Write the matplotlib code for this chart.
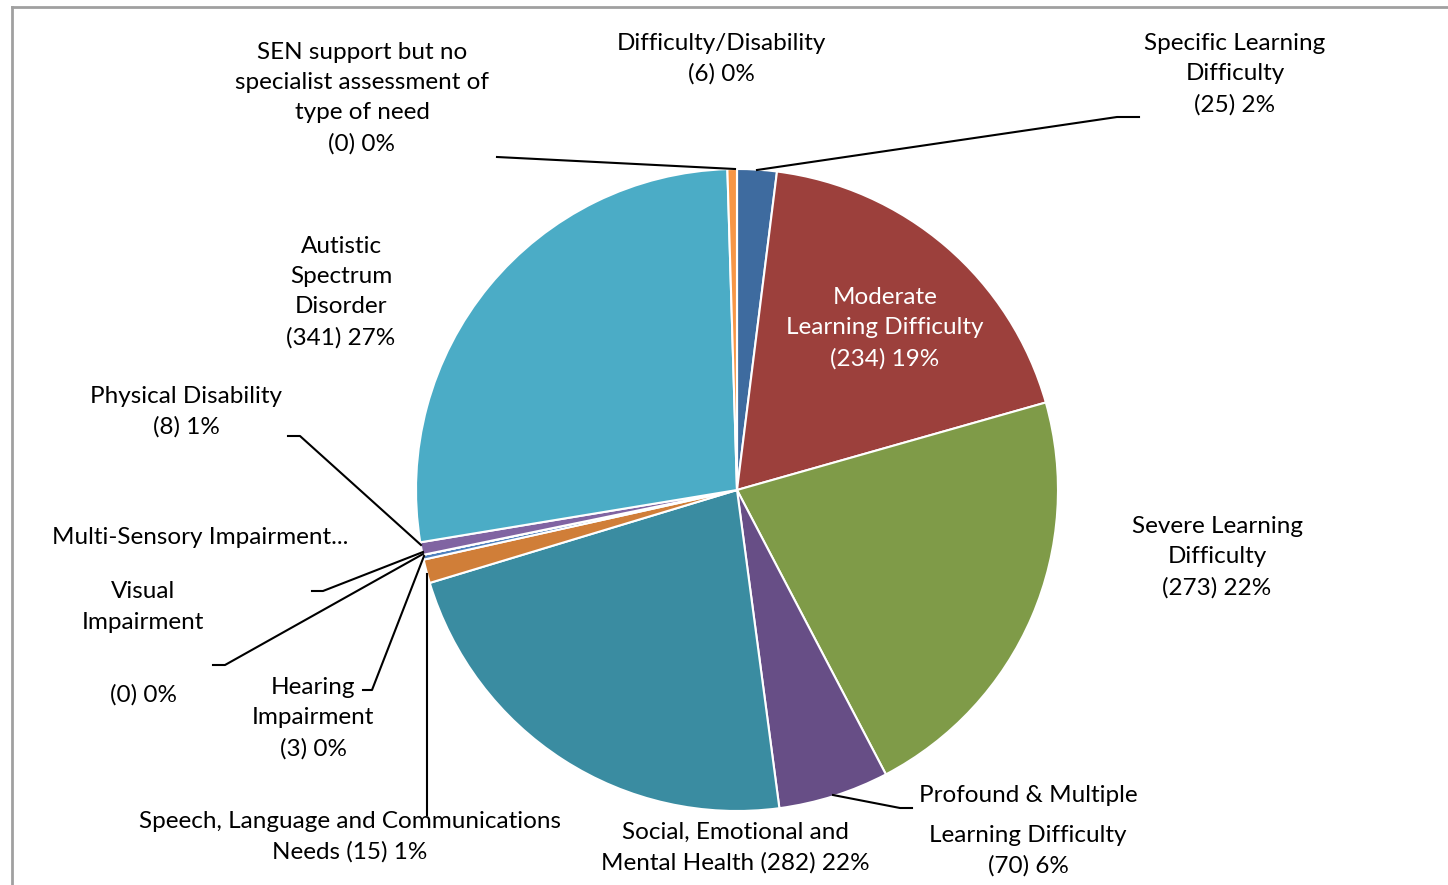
import matplotlib
matplotlib.use('Agg')
from matplotlib import pyplot as plt

# pupils by primary type of need
needs = ['Specific Learning Difficulty', 'Moderate Learning Difficulty',
         'Severe Learning Difficulty', 'Profound & Multiple Learning Difficulty',
         'Social, Emotional and Mental Health',
         'Speech, Language and Communications Needs', 'Hearing Impairment',
         'Visual Impairment', 'Multi-Sensory Impairment', 'Physical Disability',
         'Autistic Spectrum Disorder', 'Other Difficulty/Disability',
         'SEN support but no specialist assessment of type of need']
counts = [25, 234, 273, 70, 282, 15, 3, 0, 0, 8, 341, 6, 0]
colors = ['#3E6B9F', '#9C403C', '#7F9B48', '#674E86', '#3A8CA1', '#D07E38',
          '#4F81BD', '#C0504D', '#9BBB59', '#8064A2', '#4BACC6', '#F79646',
          '#2C4D75']

total = sum(counts)


def lbl(i, text):
    pct = round(100 * counts[i] / total)
    return text.format(n=counts[i], p=pct)


plt.rcParams['font.family'] = ['Lato', 'DejaVu Sans']

fig = plt.figure(figsize=(14.48, 8.85), dpi=100)
ax = fig.add_axes([0, 0, 1, 1])

# pixel-like coords, y pointing down, so counterclock here runs clockwise on screen
ax.pie(counts, colors=colors, center=(737, 490), radius=321,
       startangle=-90, counterclock=True, frame=True,
       wedgeprops=dict(edgecolor='white', linewidth=1.5))
ax.set_xlim(0, 1448)
ax.set_ylim(885, 0)
ax.axis('off')

# chart border
ax.plot([12, 1448], [7, 7], color='#A0A0A0', lw=2, clip_on=False)
ax.plot([12, 12], [7, 885], color='#A0A0A0', lw=2, clip_on=False)

fs = 17.5
kw = dict(ha='center', va='center', fontsize=fs, linespacing=1.55)

ax.text(1235, 74, lbl(0, 'Specific Learning\nDifficulty\n({n}) {p}%'), **kw)
ax.text(885, 328, lbl(1, 'Moderate\nLearning Difficulty\n({n}) {p}%'),
        color='white', **kw)
ax.text(1217, 557, lbl(2, 'Severe Learning\nDifficulty\n({n}) {p}%'), **kw)
ax.text(1028, 795, 'Profound & Multiple', **kw)
ax.text(1028, 851, lbl(3, 'Learning Difficulty\n({n}) {p}%'), **kw)
ax.text(735, 848, lbl(4, 'Social, Emotional and\nMental Health ({n}) {p}%'), **kw)
ax.text(350, 837, lbl(5, 'Speech, Language and Communications\nNeeds ({n}) {p}%'), **kw)
ax.text(313, 718, lbl(6, 'Hearing\nImpairment\n({n}) {p}%'), **kw)
ax.text(143, 607, 'Visual\nImpairment', **kw)
ax.text(143, 695, lbl(7, '({n}) {p}%'), **kw)
ax.text(200, 537, 'Multi-Sensory Impairment...', **kw)
ax.text(186, 412, lbl(9, 'Physical Disability\n({n}) {p}%'), **kw)
ax.text(341, 292, lbl(10, 'Autistic\nSpectrum\nDisorder\n({n}) {p}%'), **kw)
ax.text(721, 59, lbl(11, 'Difficulty/Disability\n({n}) {p}%'), **kw)
ax.text(362, 98, lbl(12, 'SEN support but no\nspecialist assessment of\ntype of need\n({n}) {p}%'), **kw)

# leader lines
leaders = [
    [(1139, 117), (1117, 117), (757, 170)],
    [(497, 157), (735, 169)],
    [(288, 436), (300, 436), (421, 545)],
    [(312, 591), (323, 591), (423, 552)],
    [(213, 665), (225, 665), (423, 554)],
    [(363, 690), (372, 690), (424, 556)],
    [(427, 815), (427, 574)],
    [(912, 808), (900, 808), (833, 795)],
]
for pts in leaders:
    xs, ys = zip(*pts)
    ax.plot(xs, ys, color='black', lw=1.5)

fig.savefig('out.png', dpi=100)
